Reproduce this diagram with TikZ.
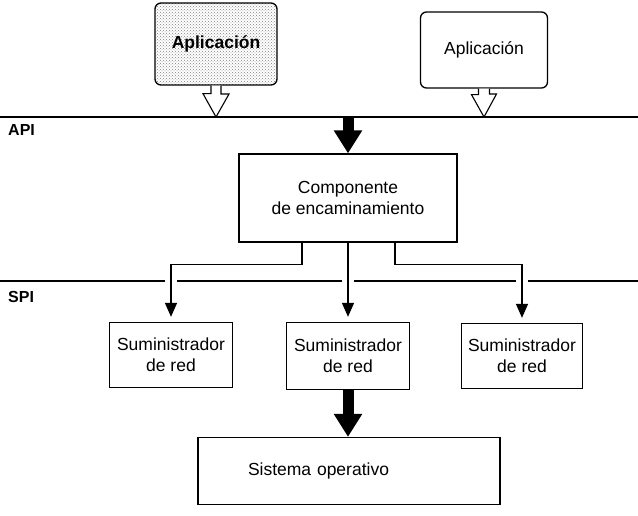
\documentclass[tikz,border=0pt]{standalone}
\usepackage{fontspec}
\setmainfont{Liberation Sans}
\usetikzlibrary{arrows.meta,patterns}

\tikzset{
  box/.style={draw, line width=1.3pt, align=center, inner sep=0pt,
    font=\fontsize{17.5}{21}\selectfont},
  appbox/.style={box, rounded corners=6pt},
  layer/.style={line width=1.4pt},
  layername/.style={anchor=west, inner sep=0pt,
    font=\bfseries\fontsize{16}{18}\selectfont},
  hollow/.style={draw, fill=white, line width=1.1pt, line join=miter},
  bigarrow/.style={line width=11pt, -{Triangle[length=23pt, width=27pt]}},
  conn/.style={line width=1.4pt, -{Triangle[length=14pt, width=12pt]}, shorten >=5pt,
    preaction={draw=white, line width=12pt, -, shorten <=1pt, shorten >=20pt}},
}

\begin{document}
\begin{tikzpicture}[x=1pt, y=-1pt]
\useasboundingbox (0,0) rectangle (638,515);

\node[appbox, pattern=crosshatch dots, pattern color=gray,
  font=\bfseries\fontsize{17.5}{21}\selectfont,
  minimum width=122pt, minimum height=82pt] (appA) at (216,44) {Aplicación};
\node[appbox, minimum width=127pt, minimum height=76pt] (appB) at (484,50) {Aplicación};

\coordinate (apiL) at (0,117);
\coordinate (apiR) at (638,117);
\draw[layer] (apiL) -- (apiR);
\node[layername] (apiname) at (8,130) {API};

\draw[hollow] ([xshift=-5pt]appA.south) -- ++(0,8) -- ++(-8,0) -- (appA.south |- apiL)
  -- ++(13,-23) -- ++(-8,0) -- ([xshift=5pt]appA.south);
\draw[hollow] ([xshift=-5.5pt]appB.south) -- ++(0,6) -- ++(-7,0) -- (appB.south |- apiL)
  -- ++(12.5,-23) -- ++(-7,0) -- ([xshift=5.5pt]appB.south);

\node[box, minimum width=218pt, minimum height=88pt] (comp) at (348,198)
  {Componente\\de encaminamiento};
\draw[bigarrow] (comp.north |- apiL) -- (comp.north);

\coordinate (spiL) at (0,281);
\coordinate (spiR) at (638,281);
\draw[layer] (spiL) -- (spiR);
\node[layername] (spiname) at (8,297) {SPI};

\node[box, minimum width=123pt, minimum height=65pt] (sumA) at (171,355) {Suministrador\\de red};
\node[box, minimum width=123pt, minimum height=67pt] (sumB) at (348,356) {Suministrador\\de red};
\node[box, minimum width=121pt, minimum height=65pt] (sumC) at (522,356) {Suministrador\\de red};

\draw[conn] ([xshift=-46pt]comp.south) -- ++(0,22) -| (sumA.north);
\draw[conn] (comp.south) -- (sumB.north);
\draw[conn] ([xshift=47pt]comp.south) -- ++(0,22) -| (sumC.north);

\node[box, minimum width=302pt, minimum height=67pt, align=left,
  text width=202pt, inner xsep=50pt] (so) at (349,471) {Sistema operativo};
\draw[bigarrow] (sumB.south) -- (sumB.south |- so.north);
\end{tikzpicture}
\end{document}
